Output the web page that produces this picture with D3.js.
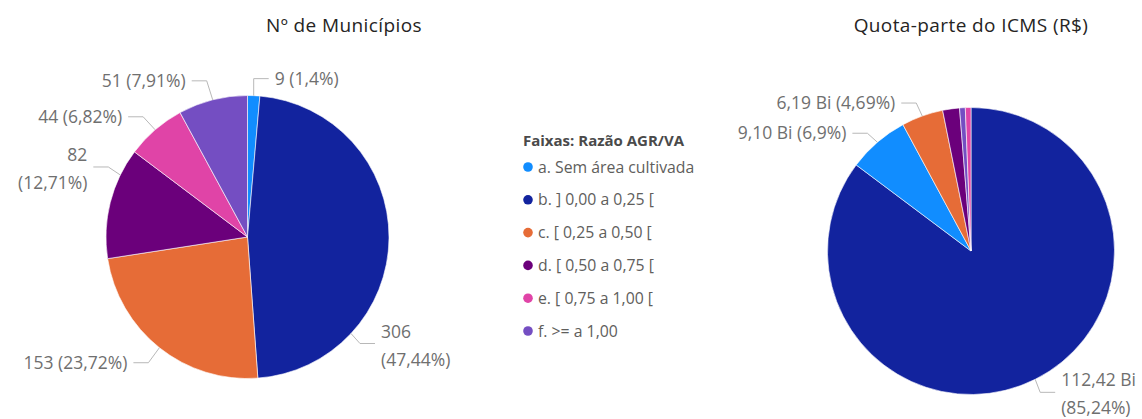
<!DOCTYPE html>
<html>
<head>
<meta charset="utf-8">
<script src="https://cdn.jsdelivr.net/npm/d3@7"></script>
<style>
  html, body { margin: 0; padding: 0; background: #fff; }
  svg { display: block; }
  text { font-family: "Segoe UI", "Open Sans", "Noto Sans", sans-serif; }
</style>
</head>
<body>
<svg id="chart" width="1142" height="419"></svg>
<script>
// ---- data ----
const categories = ["a. Sem área cultivada", "b. ] 0,00 a 0,25 [", "c. [ 0,25 a 0,50 [", "d. [ 0,50 a 0,75 [", "e. [ 0,75 a 1,00 [", "f. >= a 1,00"];
const colors = ["#118DFF", "#12239E", "#E66C37", "#6B007B", "#E044A7", "#744EC2"];
const municipios = [9, 306, 153, 82, 44, 51];                 // Nº de Municípios
const icms = [9.10, 112.42, 6.19, 2.50, 0.83, 0.85];           // Quota-parte do ICMS (R$ Bi)
const icmsOrder = [1, 0, 2, 3, 5, 4];                          // slice order (descending value)
const legendTitle = "Faixas: Razão AGR/VA";
const titles = ["Nº de Municípios", "Quota-parte do ICMS (R$)"];

// ---- layout ----
const svg = d3.select("#chart");
const color = d3.scaleOrdinal().domain(categories).range(colors);
const fmtPct = v => {
  let s = (Math.round(v * 10000) / 100).toFixed(2).replace(/0+$/, "").replace(/\.$/, "");
  return s.replace(".", ",") + "%";
};
const fmtInt = v => String(v);
const fmtBi = v => v.toFixed(2).replace(".", ",") + " Bi";

const LABEL_FS = 17.5;

// label layouts: angle override (deg, clockwise from top), elbow offset, horizontal dir, lines
const leftLayout = {
  0: {elbow: [0, -17], dir: 1, lines: 1},
  1: {angle: 133, elbow: [9, 10], dir: 1, lines: 2},
  2: {elbow: [-11, 15], dir: -1, lines: 1},
  3: {angle: 296, elbow: [-12, -8], dir: -1, lines: 2},
  4: {elbow: [-12, -13], dir: -1, lines: 1},
  5: {elbow: [-6, -19], dir: -1, lines: 1}
};
const rightLayout = {
  1: {elbow: [5, 13], dir: 1, lines: 2},
  0: {elbow: [-10, -9], dir: -1, lines: 1},
  2: {elbow: [-6, -13], dir: -1, lines: 1}
};

function drawPie(cfg) {
  const idx = cfg.order;
  const vals = idx.map(i => cfg.values[i]);
  const total = d3.sum(vals);
  const pie = d3.pie().sort(null).value(d => cfg.values[d]);
  const arcs = pie(idx);
  const arc = d3.arc().innerRadius(0).outerRadius(cfg.r);
  const g = svg.append("g").attr("transform", `translate(${cfg.cx},${cfg.cy})`);
  g.selectAll("path").data(arcs).join("path")
    .attr("d", arc)
    .attr("fill", d => color(categories[d.data]))
    .attr("stroke", "#fff").attr("stroke-width", 0.6);

  arcs.forEach(a => {
    const L = cfg.layout[a.data];
    if (!L) return;
    const ang = L.angle != null ? L.angle * Math.PI / 180 : (a.startAngle + a.endAngle) / 2;
    const sx = cfg.r * Math.sin(ang), sy = -cfg.r * Math.cos(ang);
    const ex = sx + L.elbow[0], ey = sy + L.elbow[1];
    const hx = ex + 15 * L.dir;
    g.append("polyline")
      .attr("points", `${sx},${sy} ${ex},${ey} ${hx},${ey}`)
      .attr("fill", "none").attr("stroke", "#b8b8b8").attr("stroke-width", 1);
    const v = cfg.values[a.data];
    const valTxt = cfg.fmt(v), pctTxt = "(" + fmtPct(v / total) + ")";
    const tx = hx + 6 * L.dir;
    const t = g.append("text")
      .attr("text-anchor", L.dir > 0 ? "start" : "end")
      .attr("fill", "#6f6f6f").attr("font-size", LABEL_FS);
    if (L.lines === 1) {
      t.append("tspan").attr("x", tx).attr("y", ey + 6).text(valTxt + " " + pctTxt);
    } else {
      t.append("tspan").attr("x", tx).attr("y", ey - 6).text(valTxt);
      t.append("tspan").attr("x", tx).attr("y", ey + 22).text(pctTxt);
    }
  });
}

drawPie({cx: 247.5, cy: 237, r: 141.5, values: municipios, order: d3.range(6), layout: leftLayout, fmt: fmtInt});
drawPie({cx: 971, cy: 251, r: 143.5, values: icms, order: icmsOrder, layout: rightLayout, fmt: fmtBi});

// titles
svg.append("text").attr("x", 344).attr("y", 32).attr("text-anchor", "middle")
  .attr("font-size", 19).attr("fill", "#252423").attr("letter-spacing", 0.4).text(titles[0]);
svg.append("text").attr("x", 971).attr("y", 32).attr("text-anchor", "middle")
  .attr("font-size", 19).attr("fill", "#252423").attr("letter-spacing", 0.4).text(titles[1]);

// legend
const lg = svg.append("g");
lg.append("text").attr("x", 523).attr("y", 146).attr("font-size", 15).attr("font-weight", "bold")
  .attr("fill", "#4a4a4a").text(legendTitle);
const ly = d3.scalePoint().domain(categories).range([167, 331]);
const items = lg.selectAll("g.item").data(categories).join("g").attr("class", "item")
  .attr("transform", d => `translate(0,${ly(d)})`);
items.append("circle").attr("cx", 528).attr("cy", 0).attr("r", 4.8).attr("fill", d => color(d));
items.append("text").attr("x", 538).attr("y", 5.5).attr("font-size", 15.8).attr("fill", "#605E5C").text(d => d);
</script>
</body>
</html>
